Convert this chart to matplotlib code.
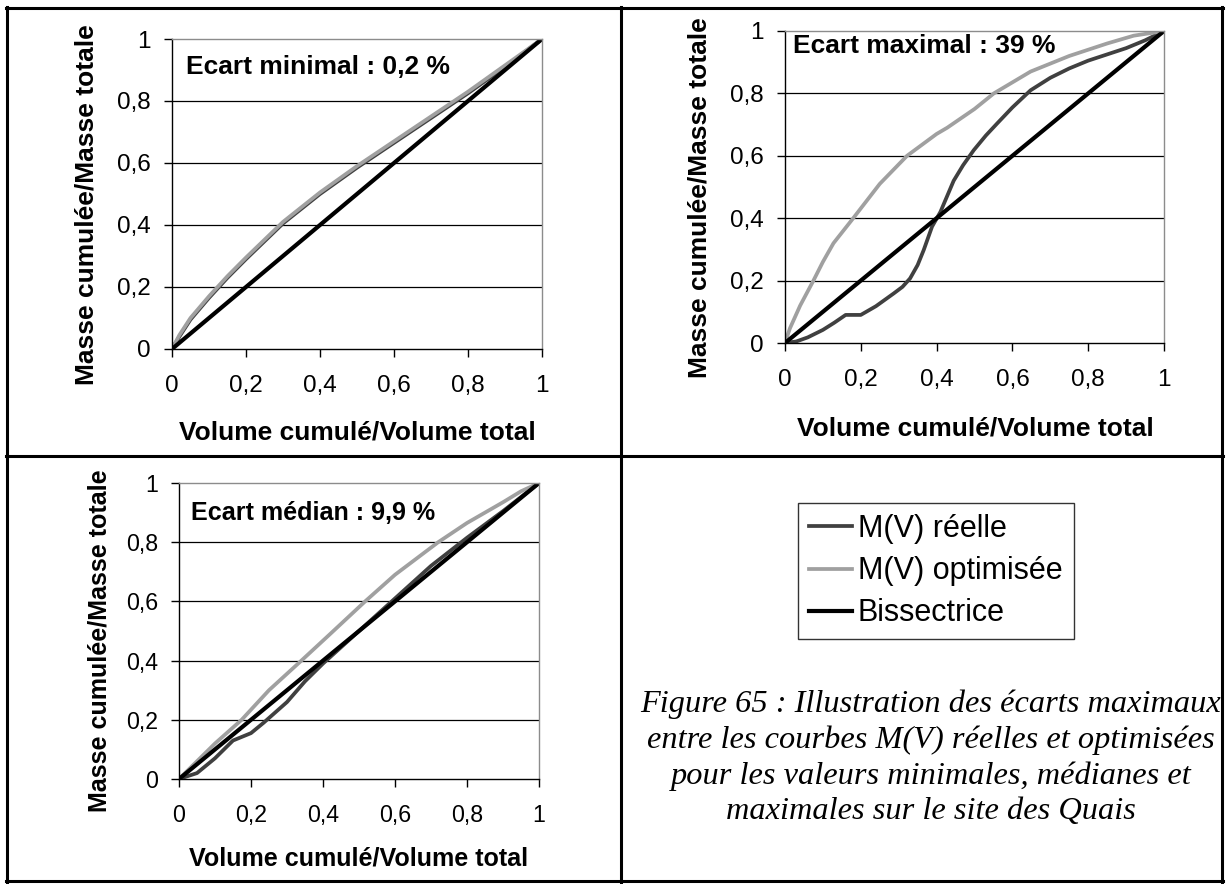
import matplotlib.pyplot as plt
from matplotlib.lines import Line2D

plt.rcParams['font.family'] = ['Liberation Sans', 'DejaVu Sans']

W, H = 1228, 884

# --- data ---
ticks = [0, 0.2, 0.4, 0.6, 0.8, 1]
tick_labels = ['0', '0,2', '0,4', '0,6', '0,8', '1']
bissectrice = [0, 1]

# Ecart minimal
x_min = [0, 0.02, 0.05, 0.1, 0.15, 0.2, 0.3, 0.4, 0.5, 0.6, 0.7, 0.8, 0.9, 1.0]
reel_min = [0, 0.04, 0.095, 0.165, 0.23, 0.29, 0.405, 0.50, 0.585, 0.665, 0.745, 0.825, 0.91, 1.0]
opt_min = [0, 0.045, 0.10, 0.17, 0.235, 0.295, 0.41, 0.505, 0.59, 0.67, 0.75, 0.83, 0.915, 1.0]

# Ecart maximal
x_max_reel = [0, 0.03, 0.06, 0.1, 0.13, 0.16, 0.2, 0.24, 0.287, 0.31, 0.33, 0.35, 0.366,
              0.388, 0.41, 0.445, 0.47, 0.498, 0.53, 0.56, 0.6, 0.648, 0.7, 0.75, 0.8,
              0.85, 0.9, 0.95, 1.0]
reel_max = [0, 0.005, 0.018, 0.042, 0.065, 0.09, 0.09, 0.118, 0.159, 0.18, 0.207, 0.25, 0.298,
            0.373, 0.42, 0.52, 0.57, 0.618, 0.665, 0.704, 0.755, 0.81, 0.85, 0.88, 0.905,
            0.925, 0.945, 0.97, 1.0]
x_max_opt = [0, 0.013, 0.04, 0.075, 0.1, 0.128, 0.18, 0.25, 0.322, 0.4, 0.428, 0.5, 0.551,
             0.648, 0.75, 0.85, 0.92, 1.0]
opt_max = [0, 0.047, 0.12, 0.2, 0.26, 0.32, 0.4, 0.51, 0.6, 0.67, 0.69, 0.75, 0.8,
           0.87, 0.92, 0.96, 0.985, 1.0]

# Ecart median
x_med_reel = [0, 0.05, 0.1, 0.15, 0.2, 0.235, 0.3, 0.35, 0.4, 0.5, 0.6, 0.7, 0.8, 0.9, 1.0]
reel_med = [0, 0.02, 0.07, 0.13, 0.155, 0.19, 0.26, 0.33, 0.39, 0.5, 0.61, 0.72, 0.815, 0.905, 1.0]
x_med_opt = [0, 0.05, 0.1, 0.174, 0.25, 0.34, 0.42, 0.517, 0.6, 0.72, 0.8, 0.9, 0.95, 1.0]
opt_med = [0, 0.06, 0.12, 0.2, 0.3, 0.4, 0.49, 0.6, 0.69, 0.8, 0.865, 0.935, 0.972, 1.0]

C_REEL = '#404040'
C_OPT = '#a0a0a0'
C_BIS = '#000000'

fig = plt.figure(figsize=(W / 100, H / 100), dpi=100)


def panel(box, xr, yr, xo, yo, note, note_xy, ylab_xy, xlab_xy, s=1.0):
    l, t, r, b = box
    ax = fig.add_axes([l / W, 1 - b / H, (r - l) / W, (b - t) / H])
    ax.plot(xr, yr, color=C_REEL, lw=2.7, label='M(V) réelle', solid_joinstyle='round')
    ax.plot(xo, yo, color=C_OPT, lw=2.7, label='M(V) optimisée', solid_joinstyle='round')
    ax.plot(bissectrice, bissectrice, color=C_BIS, lw=3.0, label='Bissectrice')
    ax.set_xlim(0, 1)
    ax.set_ylim(0, 1)
    ax.set_xticks(ticks)
    ax.set_xticklabels(tick_labels)
    ax.set_yticks(ticks)
    ax.set_yticklabels(tick_labels)
    for y in ticks[1:-1]:
        ax.axhline(y, color='black', lw=0.9, zorder=0)
    ax.spines['left'].set_color('black')
    ax.spines['bottom'].set_color('black')
    ax.spines['top'].set_color('#8c8c8c')
    ax.spines['right'].set_color('#8c8c8c')
    for sp in ax.spines.values():
        sp.set_linewidth(1.0)
    ax.tick_params(direction='out', length=5.5, width=1.0, labelsize=17.5 * s)
    ax.tick_params(axis='x', pad=13 * s)
    ax.tick_params(axis='y', pad=10 * s)
    ax.set_xlabel('Volume cumulé/Volume total', fontsize=19 * s, fontweight='bold')
    ax.set_ylabel('Masse cumulée/Masse totale', fontsize=19 * s, fontweight='bold')
    ax.xaxis.set_label_coords((xlab_xy[0] - l) / (r - l), (b - xlab_xy[1]) / (b - t))
    ax.xaxis.label.set_va('center')
    ax.yaxis.set_label_coords((ylab_xy[0] - l) / (r - l), (b - ylab_xy[1]) / (b - t))
    ax.yaxis.label.set_va('center')
    ax.text((note_xy[0] - l) / (r - l), (b - note_xy[1]) / (b - t), note,
            transform=ax.transAxes, fontsize=19 * s, fontweight='bold', va='baseline')
    return ax


ax1 = panel((172, 39, 542, 349), x_min, reel_min, x_min, opt_min,
            'Ecart minimal : 0,2 %', (186, 74), (87, 205), (357, 433))
ax2 = panel((785, 31, 1164, 343), x_max_reel, reel_max, x_max_opt, opt_max,
            'Ecart maximal : 39 %', (793, 53), (700, 198), (975, 428))
ax3 = panel((179, 483, 539, 779), x_med_reel, reel_med, x_med_opt, opt_med,
            'Ecart médian : 9,9 %', (191, 520), (100, 641), (359, 858), s=0.95)

# table borders around the panels
def hline(y, x0, x1):
    fig.add_artist(Line2D([x0 / W, x1 / W], [1 - y / H, 1 - y / H], color='black', lw=2.2))

def vline(x, y0, y1):
    fig.add_artist(Line2D([x / W, x / W], [1 - y0 / H, 1 - y1 / H], color='black', lw=2.2))

hline(8, 6, 1223)
hline(456, 6, 1223)
hline(881, 6, 1223)
vline(7, 7, 882)
vline(621, 7, 882)
vline(1222, 7, 882)

handles, labels = ax1.get_legend_handles_labels()
fig.legend(handles, labels, loc='upper left', bbox_to_anchor=(798 / W, 1 - 503 / H),
           fontsize=22, frameon=True, fancybox=False, edgecolor='#333333',
           framealpha=1, borderpad=0.36, labelspacing=0.4, handlelength=1.4,
           handletextpad=0.2, borderaxespad=0)

caption = ("Figure 65 : Illustration des écarts maximaux\n"
           "entre les courbes M(V) réelles et optimisées\n"
           "pour les valeurs minimales, médianes et\n"
           "maximales sur le site des Quais")
fig.text(931 / W, 1 - 758 / H, caption, ha='center', va='center', multialignment='center',
         fontsize=23.3, style='italic', family=['Liberation Serif', 'DejaVu Serif'],
         linespacing=1.28)

fig.savefig('out.png', dpi=100)
